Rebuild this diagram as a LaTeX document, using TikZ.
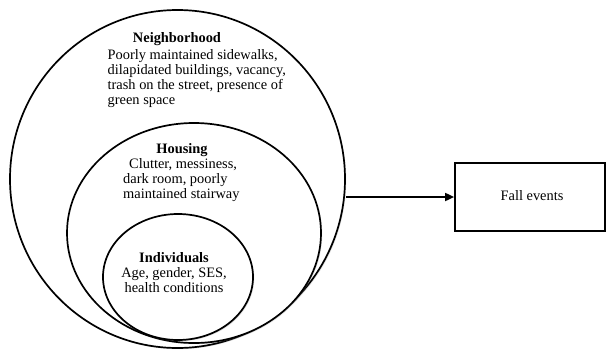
\documentclass[tikz,border=0pt]{standalone}
\usepackage{fontspec}
\setmainfont{Liberation Serif}
\usetikzlibrary{shapes.geometric,arrows.meta,shadows}
\begin{document}
\begin{tikzpicture}[x=1pt,y=-1pt,
  ring/.style={ellipse,draw,line width=1.7pt,fill=white,inner sep=0pt,
    drop shadow={shadow xshift=1.2pt,shadow yshift=-1.2pt,opacity=0.25}},
  txt/.style={inner sep=0pt,font=\fontsize{14.4}{14.8}\selectfont},
  ttl/.style={txt,font=\fontsize{14.4}{14.8}\selectfont\bfseries},
  boxst/.style={rectangle,draw,line width=1.7pt,fill=white,inner sep=0pt,
    drop shadow={shadow xshift=1.2pt,shadow yshift=-1.2pt,opacity=0.25}},
  link/.style={line width=1.7pt,-{Triangle[length=9pt,width=8pt]}}]
\useasboundingbox (0,0) rectangle (606,349);
\node[ring,minimum width=335pt,minimum height=338pt] (outer) at (177.5,179) {};
\node[ring,minimum width=254pt,minimum height=220pt] (middle) at (194,233) {};
\node[ring,minimum width=150pt,minimum height=126pt] (inner) at (178,277) {};
\node[boxst,minimum width=150pt,minimum height=68pt] (box) at (530,197) {};
\node[ttl,anchor=base] (nt) at (177,42.3) {Neighborhood};
\node[txt,anchor=base west,align=left] (nb) at (107.5,104) {Poorly maintained sidewalks,\\dilapidated buildings, vacancy,\\trash on the street, presence of\\green space};
\node[ttl,anchor=base] (ht) at (182,153.3) {Housing};
\node[txt,anchor=base west,align=left] (hb) at (123,198) {\hspace*{6pt}Clutter, messiness,\\dark room, poorly\\maintained stairway};
\node[ttl,anchor=base] (it) at (174,262.5) {Individuals};
\node[txt,anchor=base,align=center] (ib) at (174,292.3) {Age, gender, SES,\\health conditions};
\node[txt,anchor=base] (fe) at (532,200) {Fall events};
\draw[link] (box.west -| outer.east) -- (box.west);
\end{tikzpicture}
\end{document}
